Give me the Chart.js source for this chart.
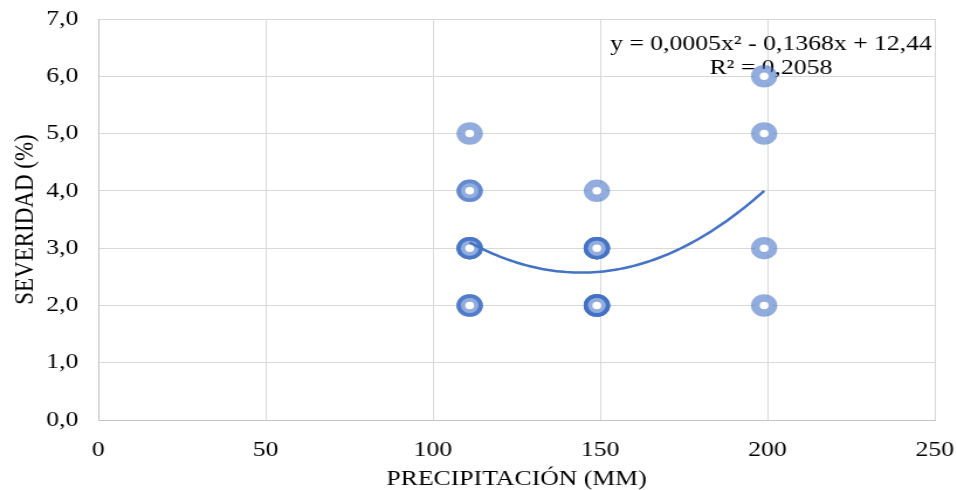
<!DOCTYPE html>
<html>
<head>
<meta charset="utf-8">
<script src="https://cdn.jsdelivr.net/npm/chart.js@4.4.1/dist/chart.umd.min.js"></script>
<style>
  body { margin: 0; background: #fff; }
  canvas { display: block; }
</style>
</head>
<body>
<!-- the original picture is stretched sideways, so the canvas is drawn narrower and scaled up -->
<canvas id="chart" width="818" height="490" style="width:957px;height:490px"></canvas>
<script>
// observations (repeated values overlap on the picture)
const precipitacion = [
    111, 111, 111, 111, 111, 111, 111, 111, 111, 111,
    149, 149, 149, 149, 149, 149, 149, 149, 149, 149, 149, 149,
    199, 199, 199, 199
];
const severidad = [
    5, 4, 4, 3, 3, 3, 3, 2, 2, 2,
    4, 3, 3, 3, 3, 3, 2, 2, 2, 2, 2, 2,
    6, 5, 3, 2
];
const xTicks = [0, 50, 100, 150, 200, 250];
const yTicks = [0, 1, 2, 3, 4, 5, 6, 7];
const equationLines = ["y = 0,0005x² - 0,1368x + 12,44", "R² = 0,2058"];

const FONT = "'Liberation Serif', 'Times New Roman', serif";
const BLUE = "#4472C4";

// least squares polynomial of order 2 (like the spreadsheet trendline)
function fitQuadratic(xs, ys) {
    const s = [0, 0, 0, 0, 0];
    const t = [0, 0, 0];
    xs.forEach((x, i) => {
        for (let k = 0; k < 5; k++) s[k] += Math.pow(x, k);
        for (let k = 0; k < 3; k++) t[k] += Math.pow(x, k) * ys[i];
    });
    const m = [
        [s[0], s[1], s[2], t[0]],
        [s[1], s[2], s[3], t[1]],
        [s[2], s[3], s[4], t[2]]
    ];
    for (let i = 0; i < 3; i++) {
        for (let j = i + 1; j < 3; j++) {
            const f = m[j][i] / m[i][i];
            for (let k = i; k < 4; k++) m[j][k] -= f * m[i][k];
        }
    }
    const c = [0, 0, 0];
    for (let i = 2; i >= 0; i--) {
        let v = m[i][3];
        for (let k = i + 1; k < 3; k++) v -= m[i][k] * c[k];
        c[i] = v / m[i][i];
    }
    return c; // c0 + c1 x + c2 x^2
}

const coef = fitQuadratic(precipitacion, severidad);
const trend = [];
for (let x = Math.min(...precipitacion); x <= Math.max(...precipitacion); x++) {
    trend.push({ x, y: coef[0] + coef[1] * x + coef[2] * x * x });
}

const points = precipitacion.map((x, i) => ({ x, y: severidad[i] }));

// equation text sits under the markers
const equationLabel = {
    id: "equationLabel",
    beforeDatasetsDraw(chart) {
        const ctx = chart.ctx;
        ctx.save();
        ctx.font = "22px " + FONT;
        ctx.fillStyle = "#000";
        ctx.textAlign = "center";
        ctx.textBaseline = "middle";
        ctx.fillText(equationLines[0], 659, 44);
        ctx.fillText(equationLines[1], 659, 68);
        ctx.restore();
    }
};

new Chart(document.getElementById("chart"), {
    type: "scatter",
    data: {
        datasets: [
            {
                type: "line",
                data: trend,
                borderColor: BLUE,
                borderWidth: 2.5,
                pointRadius: 0,
                tension: 0,
                fill: false,
                order: 0
            },
            {
                data: points,
                pointStyle: "circle",
                pointRadius: 7.5,
                pointBorderWidth: 7.5,
                backgroundColor: "#fff",
                borderColor: "rgba(68, 114, 196, 0.58)",
                order: 1
            }
        ]
    },
    options: {
        responsive: false,
        devicePixelRatio: 1,
        animation: false,
        layout: { padding: { left: 10, top: 19, right: 19, bottom: 0 } },
        plugins: {
            legend: { display: false },
            tooltip: { enabled: false }
        },
        scales: {
            x: {
                type: "linear",
                min: 0,
                max: 250,
                afterBuildTicks: axis => { axis.ticks = xTicks.map(v => ({ value: v })); },
                afterFit: axis => {
                    axis.height = 70;
                    axis.paddingLeft = 0;
                    axis.paddingRight = 0;
                },
                grid: { color: "#d9d9d9", drawTicks: false },
                border: { color: "#c4c4c4" },
                ticks: {
                    color: "#000",
                    padding: 17,
                    font: { family: FONT, size: 22 },
                    callback: v => String(v)
                },
                title: {
                    display: true,
                    text: "PRECIPITACIÓN (MM)",
                    color: "#000",
                    padding: 0,
                    font: { family: FONT, size: 22, lineHeight: 1 }
                }
            },
            y: {
                min: 0,
                max: 7,
                afterBuildTicks: axis => { axis.ticks = yTicks.map(v => ({ value: v })); },
                afterFit: axis => {
                    axis.width = 74;
                    axis.paddingTop = 0;
                    axis.paddingBottom = 0;
                },
                grid: { color: "#d9d9d9", drawTicks: false },
                border: { color: "#c4c4c4" },
                ticks: {
                    color: "#000",
                    padding: 17,
                    font: { family: FONT, size: 22 },
                    callback: v => v.toFixed(1).replace(".", ",")
                },
                title: {
                    display: true,
                    text: "SEVERIDAD (%)",
                    color: "#000",
                    padding: 0,
                    font: { family: FONT, size: 23, lineHeight: 1 }
                }
            }
        }
    },
    plugins: [equationLabel]
});
</script>
</body>
</html>
